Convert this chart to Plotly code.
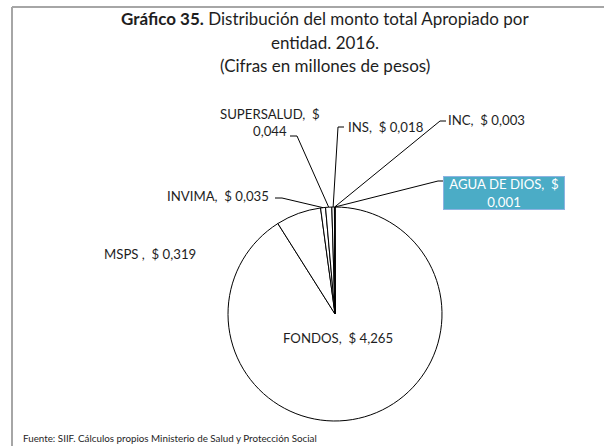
import math
import plotly.graph_objects as go

# Appropriated amount by entity, 2016 (millions of pesos)
entities = ["FONDOS", "MSPS ", "INVIMA", "SUPERSALUD", "INS", "INC", "AGUA DE DIOS"]
amounts = [4.265, 0.319, 0.035, 0.044, 0.018, 0.003, 0.001]

W, H = 604, 446
CX, CY, R = 335, 314, 107  # pie centre and radius in pixels
TEXT = "#1e1e1e"
FONT = "Lato"
SEP = ",\u00a0 "  # separator between category name and value


def px(x):
    return x / W


def py(y):
    return 1 - y / H


def fmt(v):
    return f"$ {v:.3f}".replace(".", ",")


def slice_edge(i):
    """Pixel point on the rim at the middle of slice i (clockwise from 12 o'clock)."""
    total = sum(amounts)
    start = sum(amounts[:i]) / total * 360
    mid = start + amounts[i] / total * 180
    a = math.radians(mid)
    return CX + R * math.sin(a), CY - R * math.cos(a)


fig = go.Figure(
    go.Pie(
        labels=entities,
        values=amounts,
        sort=False,
        direction="clockwise",
        rotation=0,
        textinfo="none",
        marker=dict(colors=["white"] * len(amounts), line=dict(color="black", width=1)),
        domain=dict(x=[px(CX - R), px(CX + R)], y=[py(CY + R), py(CY - R)]),
        showlegend=False,
    )
)

annotations = []

# Title
title_lines = [
    ("<b>Gráfico 35.</b> Distribución del monto total Apropiado por", 18),
    ("entidad. 2016.", 43),
    ("(Cifras en millones de pesos)", 66),
]
for txt, y in title_lines:
    annotations.append(dict(x=px(325), y=py(y), xref="paper", yref="paper", text=txt,
                            showarrow=False, xanchor="center", yanchor="middle",
                            font=dict(family=FONT, size=17, color=TEXT)))

# Data labels: (x, y, xanchor) in pixels
label_pos = {
    0: (338, 338, "center"),
    1: (102, 254, "left"),
    2: (271, 196, "right"),
    3: (270, 122, "center"),
    4: (346, 127, "left"),
    5: (446, 120, "left"),
}
for i, (x, y, xa) in label_pos.items():
    name = entities[i]
    if name == "SUPERSALUD":
        txt = f"{name}{SEP}$<br>{fmt(amounts[i])[2:]}"
    else:
        txt = f"{name}{SEP}{fmt(amounts[i])}"
    annotations.append(dict(x=px(x), y=py(y), xref="paper", yref="paper", text=txt,
                            showarrow=False, xanchor=xa, yanchor="middle", align="center",
                            font=dict(family=FONT, size=13.2, color=TEXT)))

# Highlighted label
annotations.append(dict(x=px(504), y=py(193), xref="paper", yref="paper",
                        text=f"{entities[6]}{SEP}$<br>{fmt(amounts[6])[2:]}",
                        showarrow=False, xanchor="center", yanchor="middle", align="center",
                        width=118, height=30, bgcolor="#4bacc6", bordercolor="#8db3e2",
                        borderwidth=1, borderpad=1,
                        font=dict(family=FONT, size=13.2, color="white")))

# Source note
annotations.append(dict(x=px(21), y=py(438), xref="paper", yref="paper",
                        text="Fuente: SIIF. Cálculos propios Ministerio de Salud y Protección Social",
                        showarrow=False, xanchor="left", yanchor="middle",
                        font=dict(family=FONT, size=9.8, color=TEXT)))

# Leader lines: label anchor -> elbow -> slice rim
leaders = {
    2: [(275, 198), (282, 198)],
    3: [(290, 136), (297, 136)],
    4: [(344, 127), (338, 127)],
    5: [(446, 121), (440, 121)],
    6: [(444, 181), (438, 181)],
}
shapes = []
for i, pts in leaders.items():
    ex, ey = slice_edge(i)
    allpts = pts + [(ex, ey)]
    path = "M " + " L ".join(f"{px(x)},{py(y)}" for x, y in allpts)
    shapes.append(dict(type="path", path=path, xref="paper", yref="paper",
                       line=dict(color="black", width=1)))

# Frame around the chart
shapes.append(dict(type="line", xref="paper", yref="paper", x0=px(12), x1=1, y0=py(7), y1=py(7),
                   line=dict(color="#a6a6a6", width=2)))
shapes.append(dict(type="line", xref="paper", yref="paper", x0=px(12), x1=px(12), y0=py(7), y1=0,
                   line=dict(color="#a6a6a6", width=2)))

fig.update_layout(
    width=W, height=H,
    margin=dict(l=0, r=0, t=0, b=0),
    paper_bgcolor="white", plot_bgcolor="white",
    annotations=annotations, shapes=shapes,
    font=dict(family=FONT),
)

fig.write_html("out.html")
